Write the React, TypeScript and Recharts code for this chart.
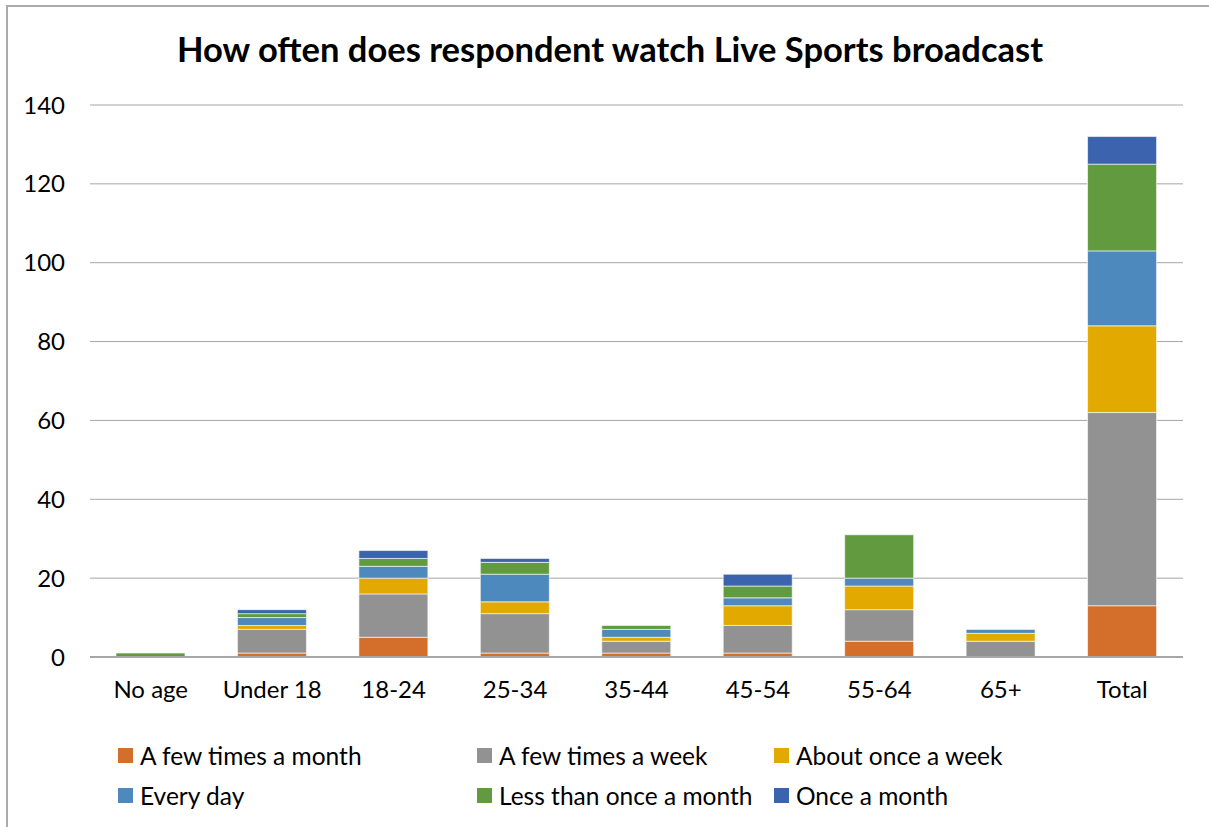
import { BarChart, Bar, XAxis, YAxis, CartesianGrid } from "recharts";

const categories = ["No age", "Under 18", "18-24", "25-34", "35-44", "45-54", "55-64", "65+", "Total"];

const fewMonth = [0, 1, 5, 1, 1, 1, 4, 0, 13];
const fewWeek = [0, 6, 11, 10, 3, 7, 8, 4, 49];
const onceWeek = [0, 1, 4, 3, 1, 5, 6, 2, 22];
const everyDay = [0, 2, 3, 7, 2, 2, 2, 1, 19];
const lessMonth = [1, 1, 2, 3, 1, 3, 11, 0, 22];
const onceMonth = [0, 1, 2, 1, 0, 3, 0, 0, 7];

const yTicks = [0, 20, 40, 60, 80, 100, 120, 140];

const series = [
  { key: "fewMonth", name: "A few times a month", color: "#D36F2B", values: fewMonth },
  { key: "fewWeek", name: "A few times a week", color: "#929292", values: fewWeek },
  { key: "onceWeek", name: "About once a week", color: "#E2AA00", values: onceWeek },
  { key: "everyDay", name: "Every day", color: "#4E89BD", values: everyDay },
  { key: "lessMonth", name: "Less than once a month", color: "#629B3F", values: lessMonth },
  { key: "onceMonth", name: "Once a month", color: "#3C63AD", values: onceMonth },
];

const data = categories.map((cat, i) => {
  const row: Record<string, string | number> = { cat };
  series.forEach((s) => {
    row[s.key] = s.values[i];
  });
  return row;
});

const font = "Lato, 'Open Sans', sans-serif";
const legendCols = [118, 477, 774];

export default function App() {
  return (
    <div style={{ position: "absolute", left: 0, top: 0, width: 1209, height: 827, overflow: "hidden", background: "#fff", fontFamily: font }}>
      <div
        style={{
          position: "absolute",
          left: 6,
          top: 5,
          width: 1240,
          height: 860,
          border: "2px solid #ababab",
          boxSizing: "border-box",
        }}
      />
      <div
        style={{
          position: "absolute",
          left: 0,
          width: 1220,
          top: 28,
          textAlign: "center",
          fontSize: 34.5,
          fontWeight: 700,
          color: "#000",
        }}
      >
        How often does respondent watch Live Sports broadcast
      </div>
      <div style={{ position: "absolute", left: 0, top: 0 }}>
        <BarChart
          width={1209}
          height={827}
          data={data}
          margin={{ top: 105, right: 26, bottom: 110, left: 0 }}
          barSize={69}
        >
          <CartesianGrid vertical={false} stroke="#a6a6a6" strokeWidth={1} />
          <XAxis
            dataKey="cat"
            tickLine={false}
            axisLine={{ stroke: "#a6a6a6", strokeWidth: 2 }}
            tick={{ fontSize: 24, fill: "#000", fontFamily: font }}
            tickMargin={18}
            height={60}
            interval={0}
          />
          <YAxis
            domain={[0, 140]}
            ticks={yTicks}
            width={90}
            tickLine={false}
            axisLine={false}
            tickSize={0}
            tickMargin={25}
            tick={{ fontSize: 24, fill: "#000", fontFamily: font }}
          />
          {series.map((s) => (
            <Bar
              key={s.key}
              dataKey={s.key}
              name={s.name}
              stackId="a"
              fill={s.color}
              stroke="#ffffff"
              strokeOpacity={0.6}
              strokeWidth={1}
              isAnimationActive={false}
            />
          ))}
        </BarChart>
      </div>
      {series.map((s, i) => (
        <div
          key={s.key}
          style={{
            position: "absolute",
            left: legendCols[i % 3],
            top: 741 + Math.floor(i / 3) * 40,
            display: "flex",
            alignItems: "center",
            fontSize: 24.5,
            color: "#000",
            whiteSpace: "nowrap",
          }}
        >
          <span style={{ display: "inline-block", width: 15, height: 15, background: s.color, marginRight: 7 }} />
          {s.name}
        </div>
      ))}
    </div>
  );
}
